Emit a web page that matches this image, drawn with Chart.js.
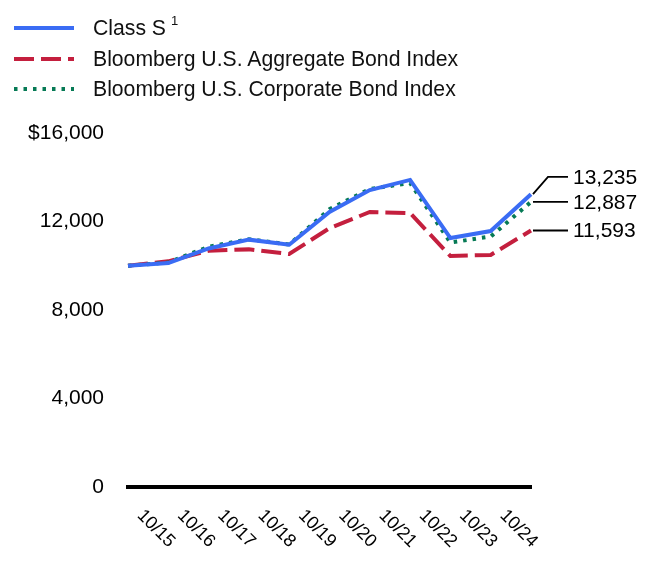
<!DOCTYPE html>
<html>
<head>
<meta charset="utf-8">
<script src="https://cdn.jsdelivr.net/npm/chart.js@4/dist/chart.umd.min.js"></script>
<style>
  html, body { margin: 0; padding: 0; background: #fff; }
  #wrap { position: relative; width: 660px; height: 588px; font-family: 'Liberation Sans', Arial, sans-serif; }
  #growthChart { position: absolute; left: 0; top: 0; }
  .legend-row { position: absolute; left: 14px; height: 30px; display: flex; align-items: center; font-size: 21.2px; color: #111; white-space: nowrap; }
  .legend-row svg { margin-right: 19px; }
  .legend-row sup { font-size: 13px; position: relative; top: -2px; margin-left: 5px; }
</style>
</head>
<body>
<div id="wrap">
  <canvas id="growthChart" width="660" height="588"></canvas>
  <div id="legend"></div>
</div>
<script>
const xLabels = ['', '10/15', '10/16', '10/17', '10/18', '10/19', '10/20', '10/21', '10/22', '10/23', '10/24'];
const classS = [10000, 10120, 10780, 11180, 10950, 12430, 13420, 13880, 11250, 11570, 13235];
const aggregateIndex = [10000, 10200, 10680, 10740, 10530, 11700, 12430, 12380, 10440, 10490, 11593];
const corporateIndex = [10000, 10150, 10860, 11200, 10960, 12560, 13470, 13740, 11050, 11320, 12887];
const yTicks = [0, 4000, 8000, 12000, 16000];

const FONT = "'Liberation Sans', Arial, sans-serif";

const series = [
  { label: 'Class S', sup: '1', data: classS, color: '#3a6cf4', dash: [], order: 0 },
  { label: 'Bloomberg U.S. Aggregate Bond Index', data: aggregateIndex, color: '#c41f3e', dash: [20, 7], order: 2 },
  { label: 'Bloomberg U.S. Corporate Bond Index', data: corporateIndex, color: '#067a55', dash: [3.5, 6], order: 1 }
];

function buildLegend() {
  const legend = document.getElementById('legend');
  const centers = [28, 59, 89];
  series.forEach((s, i) => {
    const row = document.createElement('div');
    row.className = 'legend-row';
    row.style.top = (centers[i] - 15) + 'px';
    const dash = s.dash.length ? `stroke-dasharray="${s.dash.join(' ')}"` : '';
    row.innerHTML = `<svg width="60" height="6"><line x1="0" y1="3" x2="60" y2="3" stroke="${s.color}" stroke-width="4" ${dash}/></svg>`
      + `<span>${s.label}${s.sup ? '<sup>' + s.sup + '</sup>' : ''}</span>`;
    legend.appendChild(row);
  });
}

// rotated x labels and end-value callouts
const annotate = {
  id: 'annotate',
  afterDraw(chart) {
    const ctx = chart.ctx;
    const xScale = chart.scales.x;
    const bottom = chart.chartArea.bottom;
    ctx.save();
    ctx.fillStyle = '#000';
    ctx.font = `18px ${FONT}`;
    ctx.textAlign = 'right';
    ctx.textBaseline = 'alphabetic';
    xLabels.forEach((lab, i) => {
      if (!lab) return;
      const x = xScale.getPixelForValue(i);
      ctx.save();
      ctx.translate(x, bottom + 61);
      ctx.rotate(Math.PI / 4);
      ctx.fillText(lab, 0, 0);
      ctx.restore();
    });

    const ends = series.map((s, i) => {
      const pt = chart.getDatasetMeta(i).data[s.data.length - 1];
      return { x: pt.x, y: pt.y, ly: pt.y, value: s.data[s.data.length - 1] };
    });
    const sorted = ends.slice().sort((a, b) => b.y - a.y);
    for (let i = 1; i < sorted.length; i += 1) {
      if (sorted[i - 1].ly - sorted[i].ly < 25) sorted[i].ly = sorted[i - 1].ly - 25;
    }
    ctx.strokeStyle = '#000';
    ctx.lineWidth = 1.8;
    ctx.font = `21px ${FONT}`;
    ctx.textAlign = 'left';
    ctx.textBaseline = 'middle';
    ends.forEach((e) => {
      ctx.beginPath();
      ctx.moveTo(e.x + 2, e.y);
      if (Math.abs(e.ly - e.y) > 1) ctx.lineTo(e.x + 17, e.ly);
      ctx.lineTo(568, e.ly);
      ctx.stroke();
      ctx.fillText(e.value.toLocaleString('en-US'), 573, e.ly + 1);
    });
    ctx.restore();
  }
};

function start() {
  buildLegend();
  new Chart(document.getElementById('growthChart'), {
    type: 'line',
    data: {
      labels: xLabels,
      datasets: series.map((s) => ({
        label: s.label,
        data: s.data,
        borderColor: s.color,
        backgroundColor: s.color,
        borderWidth: 4,
        borderDash: s.dash,
        pointRadius: 0,
        tension: 0,
        order: s.order
      }))
    },
    options: {
      responsive: false,
      animation: false,
      layout: { padding: { top: 133, right: 129, left: 0, bottom: 0 } },
      plugins: { legend: { display: false }, tooltip: { enabled: false } },
      scales: {
        x: {
          grid: { display: false, drawTicks: false },
          border: { display: true, color: '#000', width: 4 },
          ticks: { display: false },
          afterFit(scale) { scale.height = 101; }
        },
        y: {
          min: 0,
          max: 16000,
          afterBuildTicks(scale) { scale.ticks = yTicks.map((v) => ({ value: v })); },
          grid: { display: false, drawTicks: false },
          border: { display: false },
          ticks: {
            padding: 24,
            color: '#000',
            font: { family: FONT, size: 21 },
            callback: (v) => (v === 16000 ? '$' : '') + v.toLocaleString('en-US')
          },
          afterFit(scale) { scale.width = 128; }
        }
      }
    },
    plugins: [annotate]
  });
}

start();
</script>
</body>
</html>
